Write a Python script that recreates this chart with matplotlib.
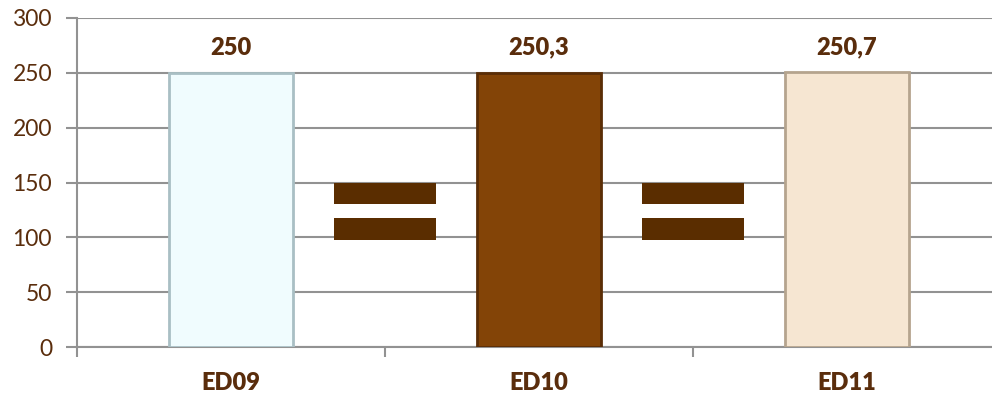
import matplotlib.pyplot as plt
import numpy as np

plt.rcParams['font.family'] = ['Lato', 'DejaVu Sans']

categories = ['ED09', 'ED10', 'ED11']
values = [250, 250.3, 250.7]
value_labels = ['250', '250,3', '250,7']
bar_colors = ['#f0fcfe', '#834407', '#f6e6d2']
edge_colors = ['#a9bfc4', '#5a2d06', '#b5a48e']

# "=" signs between the bars
eq_x = [0.5, 1.5]
eq_bottoms = [98, 130]
eq_height = 20

text_color = '#5a2d0c'
grid_color = '#929292'

fig = plt.figure(figsize=(9.92, 3.94), dpi=100)
ax = fig.add_axes([77 / 992, 47 / 394, 924 / 992, 329 / 394])

x = np.arange(len(categories))
ax.bar(x, values, width=0.4, color=bar_colors, edgecolor=edge_colors,
       linewidth=2, zorder=3)

for b in eq_bottoms:
    ax.bar(eq_x, [eq_height] * len(eq_x), bottom=b, width=0.333,
           color='#5a2d00', zorder=3)

for xi, v, lab in zip(x, values, value_labels):
    ax.annotate(lab, (xi, v), xytext=(0, 10), textcoords='offset points',
                ha='center', va='bottom', fontsize=17, fontweight='heavy',
                color=text_color)

ax.set_xlim(-0.5, 2.5)
ax.set_ylim(0, 300)
ax.set_yticks(range(0, 301, 50))
ax.set_xticks([-0.5, 0.5, 1.5, 2.5])
ax.set_xticklabels([])
ax.set_xticks(x, minor=True)
ax.set_xticklabels(categories, minor=True)

ax.grid(axis='y', color=grid_color, linewidth=1.5, zorder=0)
for s in ['top', 'right']:
    ax.spines[s].set_visible(False)
for s in ['left', 'bottom']:
    ax.spines[s].set_color(grid_color)
    ax.spines[s].set_linewidth(1.5)

ax.tick_params(axis='y', length=8, width=1.5, color=grid_color, pad=10,
               labelsize=16.5, labelcolor=text_color)
ax.tick_params(axis='x', which='major', length=7, width=1.5, color=grid_color)
ax.tick_params(axis='x', which='minor', length=0, pad=18,
               labelsize=17, labelcolor=text_color)
for t in ax.get_xticklabels(minor=True):
    t.set_fontweight('heavy')

fig.savefig('out.png', dpi=100, facecolor='white')
